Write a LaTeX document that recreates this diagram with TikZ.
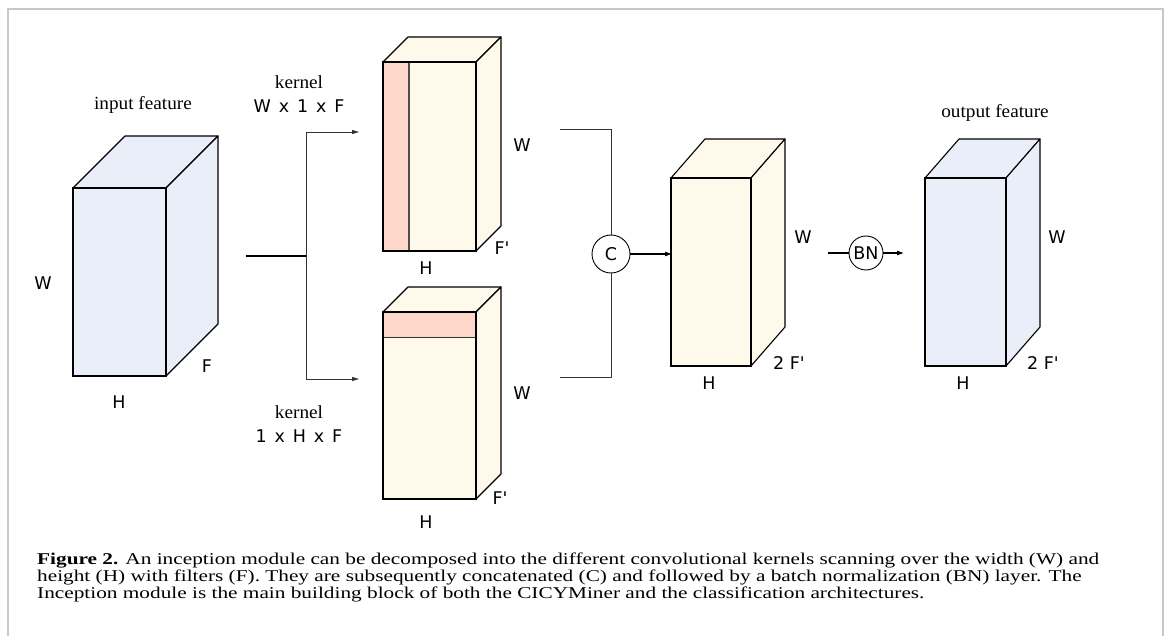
\documentclass[tikz,border=0pt]{standalone}
\usepackage{fontspec}
\setmainfont{Liberation Serif}
\newfontfamily\lblfont{DejaVu Sans}
\newfontfamily\capfont[FakeStretch=1.29]{Liberation Serif}
\newfontfamily\serfont[FakeStretch=1.04]{Liberation Serif}
\usetikzlibrary{arrows.meta}
\definecolor{inblue}{HTML}{E9EEF9}
\definecolor{cream}{HTML}{FFF9EC}
\definecolor{salmon}{HTML}{FDD8CA}
\definecolor{frame}{HTML}{C8C8C8}
\definecolor{conn}{HTML}{333333}
\newcommand\mycube[7]{%
  % #1,#2 front top-left; #3,#4 front bottom-right; #5,#6 offset; #7 fill
  \filldraw[fill=#7,draw=black,line width=1.1pt,line join=round]
    (#1,#2) -- ++(#5,-#6) -- (#3+#5,#2-#6) -- (#3,#2) -- cycle;
  \filldraw[fill=#7,draw=black,line width=1.1pt,line join=round]
    (#3,#2) -- (#3+#5,#2-#6) -- (#3+#5,#4-#6) -- (#3,#4) -- cycle;
  \filldraw[fill=#7,draw=black,line width=1.1pt] (#1,#2) rectangle (#3,#4);
}
\newcommand\gap{\hspace{0.45em}}
\tikzset{
  lbl/.style={font=\lblfont\fontsize{17.5}{19}\selectfont,inner sep=0pt},
  ser/.style={font=\serfont\fontsize{18.5}{20}\selectfont,inner sep=0pt},
  thin/.style={draw=conn,line width=0.9pt},
  thinarr/.style={thin,-{Triangle[length=7pt,width=4pt]}},
  thickarr/.style={draw=black,line width=1.8pt,-{Triangle[length=7pt,width=4pt]}},
  op/.style={circle,draw=black,line width=0.9pt,fill=white,inner sep=0pt,font=\lblfont\fontsize{17.5}{19}\selectfont},
  capline/.style={anchor=base west,inner sep=0pt,font=\capfont\fontsize{16.5}{18}\selectfont}
}
\begin{document}
\begin{tikzpicture}[x=1pt,y=-1pt]
\useasboundingbox (0,0) rectangle (1167,636);
\fill[white] (0,0) rectangle (1167,636);
% frame (open at bottom)
\draw[frame,line width=2pt] (7.5,640) -- (7.5,9) -- (1163,9) -- (1163,640);

% cubes
\mycube{73}{188}{166}{376}{52}{52}{inblue}
\mycube{383}{62}{476}{251}{25}{25}{cream}
\fill[salmon] (383,62) rectangle (409,251);
\draw[draw=black!70,line width=1.1pt] (409,62) -- (409,251);
\draw[black,line width=1.1pt] (383,62) rectangle (476,251);
\mycube{383}{312}{476}{499}{25}{25}{cream}
\fill[salmon] (383,312) rectangle (476,337);
\draw[black!80,line width=1pt] (383,337) -- (476,337);
\draw[black,line width=1.1pt] (383,312) rectangle (476,499);
\draw[black,line width=1.8pt] (383,312) -- (476,312);
\mycube{671}{178}{751}{366}{34}{39}{cream}
\mycube{925}{178}{1006}{366}{34}{39}{inblue}

% connector points
\coordinate (inS) at (246,256);
\coordinate (split) at (306,256);
\coordinate (splitT) at (306,132);
\coordinate (splitB) at (306,379);
\coordinate (kTin) at (359,132);
\coordinate (kBin) at (359,379);
\coordinate (kTout) at (560,129);
\coordinate (kBout) at (560,377);
\coordinate (cT) at (611,129);
\coordinate (cB) at (611,377);
\coordinate (midIn) at (672,254);
\coordinate (midOut) at (828,253);
\coordinate (outIn) at (904,253);

\node[op,minimum size=38pt] (C) at (611,254) {C};
\node[op,minimum size=34pt] (BN) at (866,253) {BN};

\draw[black,line width=1.8pt] (inS) -- (split);
\draw[thin] (splitT) -- (splitB);
\draw[thinarr] (splitT) -- (kTin);
\draw[thinarr] (splitB) -- (kBin);
\draw[thin] (kTout) -- (cT) -- (C.north);
\draw[thin] (kBout) -- (cB) -- (C.south);
\draw[thickarr] (C.east) -- (midIn);
\draw[black,line width=1.8pt] (midOut) -- (BN.west);
\draw[thickarr] (BN.east) -- (outIn);

% labels
\node[ser] (tin) at (143,105) {input feature};
\node[ser] (tout) at (995,113) {output feature};
\node[ser] (k1) at (299,82) {kernel};
\node[lbl] (k1d) at (299,106) {W\gap x\gap 1\gap x\gap F};
\node[ser] (k2) at (299,412) {kernel};
\node[lbl] (k2d) at (299,436) {1\gap x\gap H\gap x\gap F};

\node[lbl] (inW) at (43,283) {W};
\node[lbl] (inH) at (119,402) {H};
\node[lbl] (inF) at (207,366) {F};

\node[lbl] (aW) at (522,145) {W};
\node[lbl] (aF) at (502,248) {F'};
\node[lbl] (aH) at (426,268) {H};

\node[lbl] (bW) at (522,393) {W};
\node[lbl] (bF) at (500,498) {F'};
\node[lbl] (bH) at (426,522) {H};

\node[lbl] (mW) at (803,237) {W};
\node[lbl] (mF) at (789,363) {2 F'};
\node[lbl] (mH) at (709,383) {H};

\node[lbl] (oW) at (1057,237) {W};
\node[lbl] (oF) at (1043,363) {2 F'};
\node[lbl] (oH) at (963,383) {H};

% caption
\node[capline] (cap1) at (37,564) {\textbf{Figure 2.} An inception module can be decomposed into the different convolutional kernels scanning over the width (W) and};
\node[capline] (cap2) at (37,581) {height (H) with filters (F). They are subsequently concatenated (C) and followed by a batch normalization (BN) layer. The};
\node[capline] (cap3) at (37,598) {Inception module is the main building block of both the CICYMiner and the classification architectures.};
\end{tikzpicture}
\end{document}
